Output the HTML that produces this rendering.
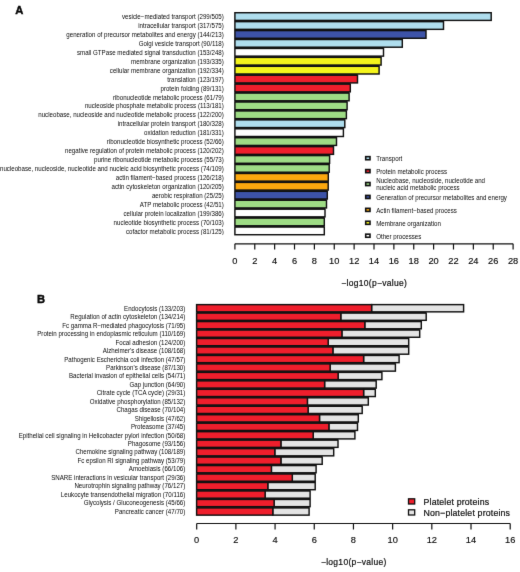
<!DOCTYPE html>
<html><head><meta charset="utf-8"><style>
html,body{margin:0;padding:0;background:#fff;}
svg{display:block;}
#w{width:520px;height:572px;}
text{font-family:"Liberation Sans",sans-serif;fill:#0a0a0a;}
g.tx{filter:grayscale(1);}

.l{font-size:6.17px;letter-spacing:0px;text-anchor:end;}
.g{font-size:6.17px;letter-spacing:0px;}
.t{font-size:9.3px;text-anchor:middle;stroke:#111;stroke-width:0.15px;}
.b{font-size:8.8px;letter-spacing:0.16px;stroke:#111;stroke-width:0.2px;}
.x{font-size:8.5px;letter-spacing:0.29px;text-anchor:middle;stroke:#111;stroke-width:0.2px;}
.h{font-size:11.2px;font-weight:bold;stroke:#000;stroke-width:0.4px;}
</style></head><body>
<div id="w"><svg width="520" height="572" viewBox="0 0 520 572">
<defs><filter id="bl" color-interpolation-filters="sRGB" x="0" y="0" width="520" height="572" filterUnits="userSpaceOnUse"><feConvolveMatrix order="3" kernelMatrix="0.00524 0.06192 0.00524 0.06192 0.73137 0.06192 0.00524 0.06192 0.00524" preserveAlpha="true" edgeMode="duplicate"/></filter></defs>
<g filter="url(#bl)">
<rect width="520" height="572" fill="#fff"/>
<rect x="234.90" y="12.72" width="256.30" height="7.68" fill="#afdeee" stroke="#111" stroke-width="1.45"/>
<rect x="234.90" y="21.66" width="208.60" height="7.68" fill="#afdeee" stroke="#111" stroke-width="1.45"/>
<rect x="234.90" y="30.59" width="191.10" height="7.68" fill="#3d53a8" stroke="#111" stroke-width="1.45"/>
<rect x="234.90" y="39.52" width="167.40" height="7.68" fill="#afdeee" stroke="#111" stroke-width="1.45"/>
<rect x="234.90" y="48.45" width="148.60" height="7.68" fill="#ffffff" stroke="#111" stroke-width="1.45"/>
<rect x="234.90" y="57.38" width="146.20" height="7.68" fill="#f5f51c" stroke="#111" stroke-width="1.45"/>
<rect x="234.90" y="66.30" width="144.20" height="7.68" fill="#f5f51c" stroke="#111" stroke-width="1.45"/>
<rect x="234.90" y="75.23" width="122.60" height="7.68" fill="#ef1e2c" stroke="#111" stroke-width="1.45"/>
<rect x="234.90" y="84.16" width="115.40" height="7.68" fill="#ef1e2c" stroke="#111" stroke-width="1.45"/>
<rect x="234.90" y="93.09" width="114.20" height="7.68" fill="#9edc85" stroke="#111" stroke-width="1.45"/>
<rect x="234.90" y="102.02" width="112.20" height="7.68" fill="#9edc85" stroke="#111" stroke-width="1.45"/>
<rect x="234.90" y="110.95" width="111.50" height="7.68" fill="#9edc85" stroke="#111" stroke-width="1.45"/>
<rect x="234.90" y="119.88" width="109.90" height="7.68" fill="#afdeee" stroke="#111" stroke-width="1.45"/>
<rect x="234.90" y="128.81" width="108.50" height="7.68" fill="#ffffff" stroke="#111" stroke-width="1.45"/>
<rect x="234.90" y="137.74" width="101.60" height="7.68" fill="#9edc85" stroke="#111" stroke-width="1.45"/>
<rect x="234.90" y="146.67" width="98.60" height="7.68" fill="#ef1e2c" stroke="#111" stroke-width="1.45"/>
<rect x="234.90" y="155.60" width="94.70" height="7.68" fill="#9edc85" stroke="#111" stroke-width="1.45"/>
<rect x="234.90" y="164.53" width="94.30" height="7.68" fill="#9edc85" stroke="#111" stroke-width="1.45"/>
<rect x="234.90" y="173.47" width="93.40" height="7.68" fill="#fca80e" stroke="#111" stroke-width="1.45"/>
<rect x="234.90" y="182.39" width="93.30" height="7.68" fill="#fca80e" stroke="#111" stroke-width="1.45"/>
<rect x="234.90" y="191.32" width="92.40" height="7.68" fill="#3d53a8" stroke="#111" stroke-width="1.45"/>
<rect x="234.90" y="200.25" width="91.60" height="7.68" fill="#9edc85" stroke="#111" stroke-width="1.45"/>
<rect x="234.90" y="209.18" width="90.10" height="7.68" fill="#ffffff" stroke="#111" stroke-width="1.45"/>
<rect x="234.90" y="218.11" width="89.40" height="7.68" fill="#9edc85" stroke="#111" stroke-width="1.45"/>
<rect x="234.90" y="227.04" width="89.40" height="7.68" fill="#ffffff" stroke="#111" stroke-width="1.45"/>
<rect x="234.90" y="20.53" width="208.60" height="1.0" fill="#111"/>
<rect x="234.90" y="29.46" width="191.10" height="1.0" fill="#111"/>
<rect x="234.90" y="38.39" width="167.40" height="1.0" fill="#111"/>
<rect x="234.90" y="47.32" width="148.60" height="1.0" fill="#111"/>
<rect x="234.90" y="56.25" width="146.20" height="1.0" fill="#111"/>
<rect x="234.90" y="65.18" width="144.20" height="1.0" fill="#111"/>
<rect x="234.90" y="74.11" width="122.60" height="1.0" fill="#111"/>
<rect x="234.90" y="83.04" width="115.40" height="1.0" fill="#111"/>
<rect x="234.90" y="91.97" width="114.20" height="1.0" fill="#111"/>
<rect x="234.90" y="100.90" width="112.20" height="1.0" fill="#111"/>
<rect x="234.90" y="109.83" width="111.50" height="1.0" fill="#111"/>
<rect x="234.90" y="118.76" width="109.90" height="1.0" fill="#111"/>
<rect x="234.90" y="127.69" width="108.50" height="1.0" fill="#111"/>
<rect x="234.90" y="136.62" width="101.60" height="1.0" fill="#111"/>
<rect x="234.90" y="145.55" width="98.60" height="1.0" fill="#111"/>
<rect x="234.90" y="154.48" width="94.70" height="1.0" fill="#111"/>
<rect x="234.90" y="163.41" width="94.30" height="1.0" fill="#111"/>
<rect x="234.90" y="172.34" width="93.40" height="1.0" fill="#111"/>
<rect x="234.90" y="181.27" width="93.30" height="1.0" fill="#111"/>
<rect x="234.90" y="190.20" width="92.40" height="1.0" fill="#111"/>
<rect x="234.90" y="199.13" width="91.60" height="1.0" fill="#111"/>
<rect x="234.90" y="208.06" width="90.10" height="1.0" fill="#111"/>
<rect x="234.90" y="216.99" width="89.40" height="1.0" fill="#111"/>
<rect x="234.90" y="225.92" width="89.40" height="1.0" fill="#111"/>
<path d="M234.9 243.8H513.1" stroke="#111" stroke-width="1.2" fill="none"/>
<path d="M234.90 243.8V249.5" stroke="#111" stroke-width="1.2"/>
<path d="M254.77 243.8V249.5" stroke="#111" stroke-width="1.2"/>
<path d="M274.64 243.8V249.5" stroke="#111" stroke-width="1.2"/>
<path d="M294.51 243.8V249.5" stroke="#111" stroke-width="1.2"/>
<path d="M314.39 243.8V249.5" stroke="#111" stroke-width="1.2"/>
<path d="M334.26 243.8V249.5" stroke="#111" stroke-width="1.2"/>
<path d="M354.13 243.8V249.5" stroke="#111" stroke-width="1.2"/>
<path d="M374.00 243.8V249.5" stroke="#111" stroke-width="1.2"/>
<path d="M393.87 243.8V249.5" stroke="#111" stroke-width="1.2"/>
<path d="M413.74 243.8V249.5" stroke="#111" stroke-width="1.2"/>
<path d="M433.61 243.8V249.5" stroke="#111" stroke-width="1.2"/>
<path d="M453.49 243.8V249.5" stroke="#111" stroke-width="1.2"/>
<path d="M473.36 243.8V249.5" stroke="#111" stroke-width="1.2"/>
<path d="M493.23 243.8V249.5" stroke="#111" stroke-width="1.2"/>
<path d="M513.10 243.8V249.5" stroke="#111" stroke-width="1.2"/>
<rect x="365.7" y="156.65" width="4.3" height="3.1" fill="#afdeee" stroke="#111" stroke-width="1.6"/>
<rect x="365.7" y="169.57" width="4.3" height="3.1" fill="#ef1e2c" stroke="#111" stroke-width="1.6"/>
<rect x="365.7" y="182.49" width="4.3" height="3.1" fill="#9edc85" stroke="#111" stroke-width="1.6"/>
<rect x="365.7" y="195.41" width="4.3" height="3.1" fill="#3d53a8" stroke="#111" stroke-width="1.6"/>
<rect x="365.7" y="208.33" width="4.3" height="3.1" fill="#fca80e" stroke="#111" stroke-width="1.6"/>
<rect x="365.7" y="221.25" width="4.3" height="3.1" fill="#f5f51c" stroke="#111" stroke-width="1.6"/>
<rect x="365.7" y="234.17" width="4.3" height="3.1" fill="#ffffff" stroke="#111" stroke-width="1.6"/>
<rect x="371.60" y="304.62" width="92.00" height="7.22" fill="#e4e4e4" stroke="#111" stroke-width="1.45"/>
<rect x="196.60" y="304.62" width="175.00" height="7.22" fill="#ef1e2c" stroke="#111" stroke-width="1.45"/>
<rect x="340.80" y="313.10" width="85.40" height="7.22" fill="#e4e4e4" stroke="#111" stroke-width="1.45"/>
<rect x="196.60" y="313.10" width="144.20" height="7.22" fill="#ef1e2c" stroke="#111" stroke-width="1.45"/>
<rect x="364.80" y="321.56" width="56.50" height="7.22" fill="#e4e4e4" stroke="#111" stroke-width="1.45"/>
<rect x="196.60" y="321.56" width="168.20" height="7.22" fill="#ef1e2c" stroke="#111" stroke-width="1.45"/>
<rect x="341.90" y="330.04" width="77.80" height="7.22" fill="#e4e4e4" stroke="#111" stroke-width="1.45"/>
<rect x="196.60" y="330.04" width="145.30" height="7.22" fill="#ef1e2c" stroke="#111" stroke-width="1.45"/>
<rect x="328.20" y="338.50" width="80.50" height="7.22" fill="#e4e4e4" stroke="#111" stroke-width="1.45"/>
<rect x="196.60" y="338.50" width="131.60" height="7.22" fill="#ef1e2c" stroke="#111" stroke-width="1.45"/>
<rect x="332.90" y="346.98" width="75.80" height="7.22" fill="#e4e4e4" stroke="#111" stroke-width="1.45"/>
<rect x="196.60" y="346.98" width="136.30" height="7.22" fill="#ef1e2c" stroke="#111" stroke-width="1.45"/>
<rect x="363.60" y="355.44" width="35.50" height="7.22" fill="#e4e4e4" stroke="#111" stroke-width="1.45"/>
<rect x="196.60" y="355.44" width="167.00" height="7.22" fill="#ef1e2c" stroke="#111" stroke-width="1.45"/>
<rect x="330.10" y="363.92" width="65.30" height="7.22" fill="#e4e4e4" stroke="#111" stroke-width="1.45"/>
<rect x="196.60" y="363.92" width="133.50" height="7.22" fill="#ef1e2c" stroke="#111" stroke-width="1.45"/>
<rect x="338.10" y="372.38" width="43.80" height="7.22" fill="#e4e4e4" stroke="#111" stroke-width="1.45"/>
<rect x="196.60" y="372.38" width="141.50" height="7.22" fill="#ef1e2c" stroke="#111" stroke-width="1.45"/>
<rect x="324.60" y="380.86" width="51.60" height="7.22" fill="#e4e4e4" stroke="#111" stroke-width="1.45"/>
<rect x="196.60" y="380.86" width="128.00" height="7.22" fill="#ef1e2c" stroke="#111" stroke-width="1.45"/>
<rect x="363.60" y="389.32" width="11.70" height="7.22" fill="#e4e4e4" stroke="#111" stroke-width="1.45"/>
<rect x="196.60" y="389.32" width="167.00" height="7.22" fill="#ef1e2c" stroke="#111" stroke-width="1.45"/>
<rect x="307.40" y="397.80" width="60.90" height="7.22" fill="#e4e4e4" stroke="#111" stroke-width="1.45"/>
<rect x="196.60" y="397.80" width="110.80" height="7.22" fill="#ef1e2c" stroke="#111" stroke-width="1.45"/>
<rect x="308.10" y="406.26" width="54.10" height="7.22" fill="#e4e4e4" stroke="#111" stroke-width="1.45"/>
<rect x="196.60" y="406.26" width="111.50" height="7.22" fill="#ef1e2c" stroke="#111" stroke-width="1.45"/>
<rect x="319.50" y="414.74" width="38.80" height="7.22" fill="#e4e4e4" stroke="#111" stroke-width="1.45"/>
<rect x="196.60" y="414.74" width="122.90" height="7.22" fill="#ef1e2c" stroke="#111" stroke-width="1.45"/>
<rect x="328.90" y="423.21" width="28.60" height="7.22" fill="#e4e4e4" stroke="#111" stroke-width="1.45"/>
<rect x="196.60" y="423.21" width="132.30" height="7.22" fill="#ef1e2c" stroke="#111" stroke-width="1.45"/>
<rect x="313.20" y="431.68" width="41.70" height="7.22" fill="#e4e4e4" stroke="#111" stroke-width="1.45"/>
<rect x="196.60" y="431.68" width="116.60" height="7.22" fill="#ef1e2c" stroke="#111" stroke-width="1.45"/>
<rect x="280.90" y="440.14" width="57.10" height="7.22" fill="#e4e4e4" stroke="#111" stroke-width="1.45"/>
<rect x="196.60" y="440.14" width="84.30" height="7.22" fill="#ef1e2c" stroke="#111" stroke-width="1.45"/>
<rect x="274.80" y="448.62" width="58.90" height="7.22" fill="#e4e4e4" stroke="#111" stroke-width="1.45"/>
<rect x="196.60" y="448.62" width="78.20" height="7.22" fill="#ef1e2c" stroke="#111" stroke-width="1.45"/>
<rect x="280.90" y="457.09" width="41.30" height="7.22" fill="#e4e4e4" stroke="#111" stroke-width="1.45"/>
<rect x="196.60" y="457.09" width="84.30" height="7.22" fill="#ef1e2c" stroke="#111" stroke-width="1.45"/>
<rect x="271.40" y="465.56" width="44.70" height="7.22" fill="#e4e4e4" stroke="#111" stroke-width="1.45"/>
<rect x="196.60" y="465.56" width="74.80" height="7.22" fill="#ef1e2c" stroke="#111" stroke-width="1.45"/>
<rect x="292.30" y="474.02" width="22.90" height="7.22" fill="#e4e4e4" stroke="#111" stroke-width="1.45"/>
<rect x="196.60" y="474.02" width="95.70" height="7.22" fill="#ef1e2c" stroke="#111" stroke-width="1.45"/>
<rect x="267.80" y="482.50" width="47.40" height="7.22" fill="#e4e4e4" stroke="#111" stroke-width="1.45"/>
<rect x="196.60" y="482.50" width="71.20" height="7.22" fill="#ef1e2c" stroke="#111" stroke-width="1.45"/>
<rect x="265.10" y="490.97" width="45.00" height="7.22" fill="#e4e4e4" stroke="#111" stroke-width="1.45"/>
<rect x="196.60" y="490.97" width="68.50" height="7.22" fill="#ef1e2c" stroke="#111" stroke-width="1.45"/>
<rect x="274.10" y="499.44" width="36.00" height="7.22" fill="#e4e4e4" stroke="#111" stroke-width="1.45"/>
<rect x="196.60" y="499.44" width="77.50" height="7.22" fill="#ef1e2c" stroke="#111" stroke-width="1.45"/>
<rect x="272.80" y="507.91" width="36.30" height="7.22" fill="#e4e4e4" stroke="#111" stroke-width="1.45"/>
<rect x="196.60" y="507.91" width="76.20" height="7.22" fill="#ef1e2c" stroke="#111" stroke-width="1.45"/>
<rect x="196.60" y="311.97" width="229.60" height="1.0" fill="#111"/>
<rect x="196.60" y="320.44" width="224.70" height="1.0" fill="#111"/>
<rect x="196.60" y="328.91" width="223.10" height="1.0" fill="#111"/>
<rect x="196.60" y="337.38" width="212.10" height="1.0" fill="#111"/>
<rect x="196.60" y="345.85" width="212.10" height="1.0" fill="#111"/>
<rect x="196.60" y="354.32" width="202.50" height="1.0" fill="#111"/>
<rect x="196.60" y="362.79" width="198.80" height="1.0" fill="#111"/>
<rect x="196.60" y="371.26" width="185.30" height="1.0" fill="#111"/>
<rect x="196.60" y="379.73" width="179.60" height="1.0" fill="#111"/>
<rect x="196.60" y="388.20" width="178.70" height="1.0" fill="#111"/>
<rect x="196.60" y="396.67" width="171.70" height="1.0" fill="#111"/>
<rect x="196.60" y="405.14" width="165.60" height="1.0" fill="#111"/>
<rect x="196.60" y="413.61" width="161.70" height="1.0" fill="#111"/>
<rect x="196.60" y="422.08" width="160.90" height="1.0" fill="#111"/>
<rect x="196.60" y="430.55" width="158.30" height="1.0" fill="#111"/>
<rect x="196.60" y="439.02" width="141.40" height="1.0" fill="#111"/>
<rect x="196.60" y="447.49" width="137.10" height="1.0" fill="#111"/>
<rect x="196.60" y="455.96" width="125.60" height="1.0" fill="#111"/>
<rect x="196.60" y="464.43" width="119.50" height="1.0" fill="#111"/>
<rect x="196.60" y="472.90" width="118.60" height="1.0" fill="#111"/>
<rect x="196.60" y="481.37" width="118.60" height="1.0" fill="#111"/>
<rect x="196.60" y="489.84" width="113.50" height="1.0" fill="#111"/>
<rect x="196.60" y="498.31" width="113.50" height="1.0" fill="#111"/>
<rect x="196.60" y="506.78" width="112.50" height="1.0" fill="#111"/>
<path d="M196.7 523.5H510.2" stroke="#111" stroke-width="1.2" fill="none"/>
<path d="M196.70 523.5V529.5" stroke="#111" stroke-width="1.2"/>
<path d="M235.89 523.5V529.5" stroke="#111" stroke-width="1.2"/>
<path d="M275.07 523.5V529.5" stroke="#111" stroke-width="1.2"/>
<path d="M314.26 523.5V529.5" stroke="#111" stroke-width="1.2"/>
<path d="M353.45 523.5V529.5" stroke="#111" stroke-width="1.2"/>
<path d="M392.64 523.5V529.5" stroke="#111" stroke-width="1.2"/>
<path d="M431.82 523.5V529.5" stroke="#111" stroke-width="1.2"/>
<path d="M471.01 523.5V529.5" stroke="#111" stroke-width="1.2"/>
<path d="M510.20 523.5V529.5" stroke="#111" stroke-width="1.2"/>
<rect x="408.5" y="498.8" width="6.2" height="5.2" fill="#ef1e2c" stroke="#111" stroke-width="1.3"/>
<rect x="408.5" y="509.8" width="6.2" height="5.2" fill="#e4e4e4" stroke="#111" stroke-width="1.3"/>
<g class="tx">
<text transform="translate(223.80,18.96) scale(1,1.02)" class="l">vesicle−mediated transport (299/505)</text>
<text transform="translate(223.80,27.91) scale(1,1.02)" class="l">intracellular transport (317/575)</text>
<text transform="translate(223.80,36.87) scale(1,1.02)" class="l">generation of precursor metabolites and energy (144/213)</text>
<text transform="translate(223.80,45.81) scale(1,1.02)" class="l">Golgi vesicle transport (90/118)</text>
<text transform="translate(223.80,54.77) scale(1,1.02)" class="l">small GTPase mediated signal transduction (153/248)</text>
<text transform="translate(223.80,63.71) scale(1,1.02)" class="l">membrane organization (193/335)</text>
<text transform="translate(223.80,72.67) scale(1,1.02)" class="l">cellular membrane organization (192/334)</text>
<text transform="translate(223.80,81.61) scale(1,1.02)" class="l">translation (123/197)</text>
<text transform="translate(223.80,90.56) scale(1,1.02)" class="l">protein folding (89/131)</text>
<text transform="translate(223.80,99.52) scale(1,1.02)" class="l">ribonucleotide metabolic process (61/79)</text>
<text transform="translate(223.80,108.47) scale(1,1.02)" class="l">nucleoside phosphate metabolic process (113/181)</text>
<text transform="translate(223.80,117.41) scale(1,1.02)" class="l">nucleobase, nucleoside and nucleotide metabolic process (122/200)</text>
<text transform="translate(223.80,126.36) scale(1,1.02)" class="l">intracellular protein transport (180/328)</text>
<text transform="translate(223.80,135.31) scale(1,1.02)" class="l">oxidation reduction (181/331)</text>
<text transform="translate(223.80,144.26) scale(1,1.02)" class="l">ribonucleotide biosynthetic process (52/66)</text>
<text transform="translate(223.80,153.22) scale(1,1.02)" class="l">negative regulation of protein metabolic process (120/202)</text>
<text transform="translate(223.80,162.16) scale(1,1.02)" class="l">purine ribonucleotide metabolic process (55/73)</text>
<text transform="translate(223.80,171.12) scale(1,1.02)" class="l">nucleobase, nucleoside, nucleotide and nucleic acid biosynthetic process (74/109)</text>
<text transform="translate(223.80,180.07) scale(1,1.02)" class="l">actin filament−based process (126/218)</text>
<text transform="translate(223.80,189.01) scale(1,1.02)" class="l">actin cytoskeleton organization (120/205)</text>
<text transform="translate(223.80,197.97) scale(1,1.02)" class="l">aerobic respiration (25/25)</text>
<text transform="translate(223.80,206.91) scale(1,1.02)" class="l">ATP metabolic process (42/51)</text>
<text transform="translate(223.80,215.86) scale(1,1.02)" class="l">cellular protein localization (199/386)</text>
<text transform="translate(223.80,224.81) scale(1,1.02)" class="l">nucleotide biosynthetic process (70/103)</text>
<text transform="translate(223.80,233.76) scale(1,1.02)" class="l">cofactor metabolic process (81/125)</text>
<text transform="translate(234.90,263.80) scale(1,1.02)" class="t">0</text>
<text transform="translate(254.77,263.80) scale(1,1.02)" class="t">2</text>
<text transform="translate(274.64,263.80) scale(1,1.02)" class="t">4</text>
<text transform="translate(294.51,263.80) scale(1,1.02)" class="t">6</text>
<text transform="translate(314.39,263.80) scale(1,1.02)" class="t">8</text>
<text transform="translate(334.26,263.80) scale(1,1.02)" class="t">10</text>
<text transform="translate(354.13,263.80) scale(1,1.02)" class="t">12</text>
<text transform="translate(374.00,263.80) scale(1,1.02)" class="t">14</text>
<text transform="translate(393.87,263.80) scale(1,1.02)" class="t">16</text>
<text transform="translate(413.74,263.80) scale(1,1.02)" class="t">18</text>
<text transform="translate(433.61,263.80) scale(1,1.02)" class="t">20</text>
<text transform="translate(453.49,263.80) scale(1,1.02)" class="t">22</text>
<text transform="translate(473.36,263.80) scale(1,1.02)" class="t">24</text>
<text transform="translate(493.23,263.80) scale(1,1.02)" class="t">26</text>
<text transform="translate(513.10,263.80) scale(1,1.02)" class="t">28</text>
<text transform="translate(374.19,285.90) scale(1,1.02)" class="x">−log10(p−value)</text>
<text x="15.3" y="14.2" class="h">A</text>
<text transform="translate(376.20,161.00) scale(1,1.02)" class="g">Transport</text>
<text transform="translate(376.20,173.92) scale(1,1.02)" class="g">Protein metabolic process</text>
<text transform="translate(376.20,182.84) scale(1,1.02)" class="g">Nucleobase, nucleoside, nucleotide and</text>
<text transform="translate(376.20,190.24) scale(1,1.02)" class="g">nucleic acid metabolic process</text>
<text transform="translate(376.20,199.76) scale(1,1.02)" class="g">Generation of precursor metabolites and energy</text>
<text transform="translate(376.20,212.68) scale(1,1.02)" class="g">Actin filament−based process</text>
<text transform="translate(376.20,225.60) scale(1,1.02)" class="g">Membrane organization</text>
<text transform="translate(376.20,238.52) scale(1,1.02)" class="g">Other processes</text>
<text transform="translate(185.30,310.83) scale(1,1.02)" class="l">Endocytosis (133/203)</text>
<text transform="translate(185.30,319.29) scale(1,1.02)" class="l">Regulation of actin cytoskeleton (134/214)</text>
<text transform="translate(185.30,327.73) scale(1,1.02)" class="l">Fc gamma R−mediated phagocytosis (71/95)</text>
<text transform="translate(185.30,336.19) scale(1,1.02)" class="l">Protein processing in endoplasmic reticulum (110/169)</text>
<text transform="translate(185.30,344.63) scale(1,1.02)" class="l">Focal adhesion (124/200)</text>
<text transform="translate(185.30,353.08) scale(1,1.02)" class="l">Alzheimer&#39;s disease (108/168)</text>
<text transform="translate(185.30,361.53) scale(1,1.02)" class="l">Pathogenic Escherichia coli infection (47/57)</text>
<text transform="translate(185.30,369.99) scale(1,1.02)" class="l">Parkinson&#39;s disease (87/130)</text>
<text transform="translate(185.30,378.43) scale(1,1.02)" class="l">Bacterial invasion of epithelial cells (54/71)</text>
<text transform="translate(185.30,386.88) scale(1,1.02)" class="l">Gap junction (64/90)</text>
<text transform="translate(185.30,395.33) scale(1,1.02)" class="l">Citrate cycle (TCA cycle) (29/31)</text>
<text transform="translate(185.30,403.78) scale(1,1.02)" class="l">Oxidative phosphorylation (85/132)</text>
<text transform="translate(185.30,412.23) scale(1,1.02)" class="l">Chagas disease (70/104)</text>
<text transform="translate(185.30,420.69) scale(1,1.02)" class="l">Shigellosis (47/62)</text>
<text transform="translate(185.30,429.14) scale(1,1.02)" class="l">Proteasome (37/45)</text>
<text transform="translate(185.30,437.58) scale(1,1.02)" class="l">Epithelial cell signaling in Helicobacter pylori infection (50/68)</text>
<text transform="translate(185.30,446.03) scale(1,1.02)" class="l">Phagosome (93/156)</text>
<text transform="translate(185.30,454.49) scale(1,1.02)" class="l">Chemokine signaling pathway (108/189)</text>
<text transform="translate(185.30,462.94) scale(1,1.02)" class="l">Fc epsilon RI signaling pathway (53/79)</text>
<text transform="translate(185.30,471.38) scale(1,1.02)" class="l">Amoebiasis (66/106)</text>
<text transform="translate(185.30,479.83) scale(1,1.02)" class="l">SNARE interactions in vesicular transport (29/36)</text>
<text transform="translate(185.30,488.28) scale(1,1.02)" class="l">Neurotrophin signaling pathway (76/127)</text>
<text transform="translate(185.30,496.74) scale(1,1.02)" class="l">Leukocyte transendothelial migration (70/116)</text>
<text transform="translate(185.30,505.19) scale(1,1.02)" class="l">Glycolysis / Gluconeogenesis (45/66)</text>
<text transform="translate(185.30,513.63) scale(1,1.02)" class="l">Pancreatic cancer (47/70)</text>
<text transform="translate(196.70,543.40) scale(1,1.02)" class="t">0</text>
<text transform="translate(235.89,543.40) scale(1,1.02)" class="t">2</text>
<text transform="translate(275.07,543.40) scale(1,1.02)" class="t">4</text>
<text transform="translate(314.26,543.40) scale(1,1.02)" class="t">6</text>
<text transform="translate(353.45,543.40) scale(1,1.02)" class="t">8</text>
<text transform="translate(392.64,543.40) scale(1,1.02)" class="t">10</text>
<text transform="translate(431.82,543.40) scale(1,1.02)" class="t">12</text>
<text transform="translate(471.01,543.40) scale(1,1.02)" class="t">14</text>
<text transform="translate(510.20,543.40) scale(1,1.02)" class="t">16</text>
<text transform="translate(353.79,565.40) scale(1,1.02)" class="x">−log10(p−value)</text>
<text x="36.9" y="302.5" class="h">B</text>
<text transform="translate(423.50,504.80) scale(1,1.02)" class="b">Platelet proteins</text>
<text transform="translate(423.50,515.90) scale(1,1.02)" class="b">Non−platelet proteins</text>
</g>
</g>
</svg></div>
</body></html>
